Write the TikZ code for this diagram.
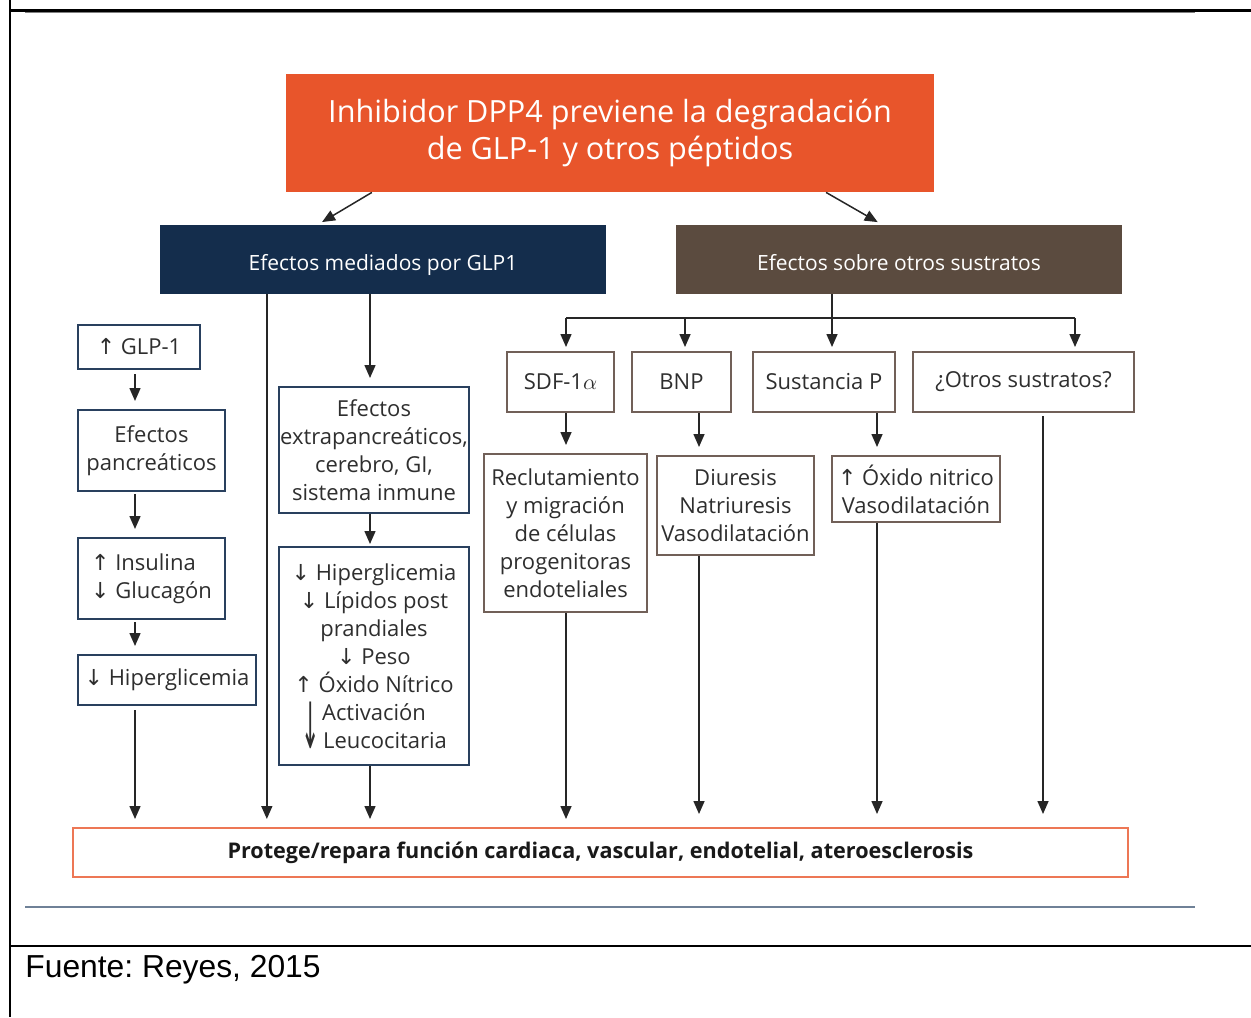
\documentclass[tikz,border=0pt]{standalone}
\usepackage{fontspec}
\setmainfont{Open Sans}
\newfontfamily\arrfont{DejaVu Sans}
\newfontfamily\arialfont{Liberation Sans}
\usetikzlibrary{arrows.meta,calc}

\definecolor{rojo}{HTML}{E8552B}
\definecolor{marino}{HTML}{142D4C}
\definecolor{cafe}{HTML}{5B4B3F}
\definecolor{bordeazul}{HTML}{29405E}
\definecolor{bordecafe}{HTML}{716058}
\definecolor{texto}{HTML}{2E2E2E}
\definecolor{lineagris}{HTML}{6F8197}

\newcommand{\flechaup}{{\arrfont\char"2191}}
\newcommand{\flechadown}{{\arrfont\char"2193}}

\frenchspacing
\begin{document}
\begin{tikzpicture}[x=0.5pt,y=-0.5pt]
    \tikzstyle{every node}=[text=texto, font=\fontsize{11}{14}\selectfont, align=center, inner sep=0pt]
    \tikzstyle{azul}=[draw=bordeazul, line width=1pt]
    \tikzstyle{cafebox}=[draw=bordecafe, line width=1pt]
    \tikzstyle{cabecera}=[minimum width=223pt, minimum height=34.5pt, text=white, text height=10.5pt, text depth=0pt, font=\fontsize{10.5}{13}\selectfont]
    \tikzstyle{linea}=[line width=0.75pt, black!85]
    \tikzstyle{arr}=[linea, -{Triangle[length=6.5pt,width=5.5pt]}, shorten >=4pt]

    \useasboundingbox (0,0) rectangle (1251,1017);

    % marco de la tabla
    \draw[line width=1pt] (10,0) -- (10,1017);
    \draw[line width=1.5pt] (10,10) -- (1251,10);
    \draw[gray, line width=0.6pt] (25,12.5) -- (1195,12.5);
    \draw[lineagris, line width=1.2pt] (25,907) -- (1195,907);
    \draw[line width=1pt] (10,946) -- (1251,946);
    \node[anchor=base west, font=\arialfont\fontsize{15.9}{18}\selectfont, text=black] (fuente) at (25,977) {Fuente: Reyes, 2015};

    \node[fill=rojo, minimum width=324pt, minimum height=59pt, text=white, font=\fontsize{15.3}{18.5}\selectfont] (top) at (610,133) {Inhibidor DPP4 previene la degradación\\de GLP-1 y otros péptidos};
    \node[cabecera, fill=marino] (hglp) at (383,259.5) {Efectos mediados por GLP1};
    \node[cabecera, fill=cafe] (hotros) at (899,259.5) {Efectos sobre otros sustratos};

    % columna pancreatica
    \node[azul, minimum width=61pt, minimum height=22pt] (glp) at (139,347) {\flechaup\ GLP-1};
    \node[azul, minimum width=73.5pt, minimum height=40.5pt] (panc) at (151.5,450.5) {Efectos\\pancreáticos};
    \node[azul, minimum width=73.5pt, minimum height=40.5pt, align=left] (insu) at (151.5,578.5) {\flechaup\ Insulina\\\flechadown\ Glucagón};
    \node[azul, minimum width=89pt, minimum height=25pt] (hiper) at (167,680) {\flechadown\ Hiperglicemia};

    % columna extrapancreatica
    \node[azul, minimum width=95pt, minimum height=63pt] (extra) at (374,450) {Efectos\\extrapancreáticos,\\cerebro, GI,\\sistema inmune};
    \node[azul, minimum width=95pt, minimum height=109pt] (efec) at (374,656) {\flechadown\ Hiperglicemia\\\flechadown\ Lípidos post\\prandiales\\\flechadown\ Peso\\\flechaup\ Óxido Nítrico\\Activación\\\smash{\scalebox{1}[2.9]{\flechadown}}\,Leucocitaria};

    % otros sustratos
    \node[cafebox, minimum width=53.5pt, minimum height=30pt] (sdf) at (560.5,382) {SDF-1$\alpha$};
    \node[cafebox, minimum width=49.5pt, minimum height=30pt] (bnp) at (681.5,382) {BNP};
    \node[cafebox, minimum width=71pt, minimum height=30pt] (sust) at (824,382) {Sustancia P};
    \node[cafebox, minimum width=110.5pt, minimum height=30pt] (otros) at (1023.5,382) {¿Otros sustratos?};
    \node[cafebox, minimum width=81.5pt, minimum height=79pt] (recl) at (565.5,533) {Reclutamiento\\y migración\\de células\\progenitoras\\endoteliales};
    \node[cafebox, minimum width=78.5pt, minimum height=49.5pt] (diur) at (735.5,505.5) {Diuresis\\Natriuresis\\Vasodilatación};
    \node[cafebox, minimum width=84pt, minimum height=33pt] (oxi) at (916,489) {\flechaup\ Óxido nitrico\\Vasodilatación};

    \node[draw=rojo!80!white, line width=1pt, minimum width=527.5pt, minimum height=24.5pt, text=black!90, font=\bfseries\fontsize{10.8}{13}\selectfont] (prot) at (600.5,852.5) {Protege/repara función cardiaca, vascular, endotelial, ateroesclerosis};

    \draw[arr, shorten >=2.5pt] ($(top.south west)!0.133!(top.south east)$) -- ($(hglp.north west)!0.354!(hglp.north east)$);
    \draw[arr, shorten >=2.5pt] ($(top.south west)!0.833!(top.south east)$) -- ($(hotros.north west)!0.462!(hotros.north east)$);

    \coordinate (c0) at (135,0);
    \draw[arr, shorten <=2pt] (glp.south -| c0) -- (panc.north -| c0);
    \draw[arr, shorten <=1pt] (panc.south -| c0) -- (insu.north -| c0);
    \draw[arr, shorten <=1pt] (insu.south -| c0) -- (hiper.north -| c0);
    \draw[arr, shorten <=2pt] (hiper.south -| c0) -- (prot.north -| c0);

    \coordinate (v1) at ($(hglp.south west)!0.24!(hglp.south east)$);
    \draw[arr] (v1) -- (v1 |- prot.north);
    \coordinate (v2) at (370,0);
    \draw[arr] (hglp.south -| v2) -- (extra.north -| v2);
    \draw[arr, shorten >=1pt] (extra.south -| v2) -- (efec.north -| v2);
    \draw[arr] (efec.south -| v2) -- (prot.north -| v2);

    \coordinate (k1) at (566,318);
    \coordinate (k2) at (685,318);
    \coordinate (k3) at (832,318);
    \coordinate (k4) at (1075,318);
    \draw[linea] (k1) -- (k4);
    \draw[arr, shorten >=2pt] (hotros.south -| k3) -- (sust.north -| k3);
    \foreach \k/\n in {k1/sdf, k2/bnp, k4/otros}
        \draw[arr, shorten >=2pt] (\k) -- (\n.north -| \k);

    \coordinate (d1) at (566,0);
    \coordinate (d2) at (699,0);
    \coordinate (d3) at (877,0);
    \coordinate (d4) at (1043,0);
    \draw[arr] (sdf.south -| d1) -- (recl.north -| d1);
    \draw[arr] (recl.south -| d1) -- (prot.north -| d1);
    \draw[arr] (bnp.south -| d2) -- (diur.north -| d2);
    \draw[arr, shorten >=6.5pt] (diur.south -| d2) -- (prot.north -| d2);
    \draw[arr] (sust.south -| d3) -- (oxi.north -| d3);
    \draw[arr, shorten >=6.5pt] (oxi.south -| d3) -- (prot.north -| d3);
    \draw[arr, shorten >=6.5pt, shorten <=1.5pt] (otros.south -| d4) -- (prot.north -| d4);
\end{tikzpicture}
\end{document}
